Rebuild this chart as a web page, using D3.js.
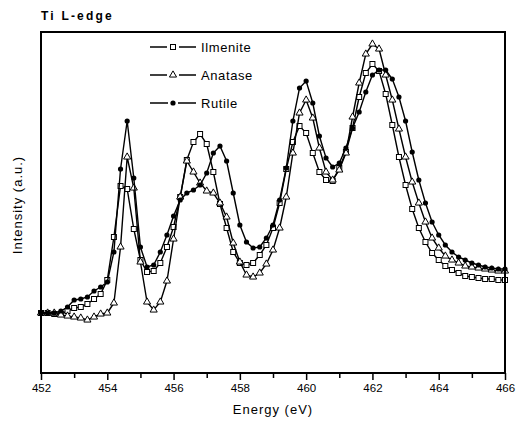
<!DOCTYPE html>
<html><head><meta charset="utf-8">
<script src="https://cdn.jsdelivr.net/npm/d3@7"></script>
<style>
body{margin:0;background:#fff;}
svg{display:block;font-family:"Liberation Sans",Arial,sans-serif;}
</style></head>
<body><svg id="c" width="521" height="432"></svg>
<script>
// Energy grid 452.0 .. 466.0 eV, step 0.2
const energy = d3.range(0, 71).map(i => +(452 + i * 0.2).toFixed(1));
const ilmenite = [60,60,59,59,62,65,66,69,74,79, 93,136,187,184,144,113,101,102,110,126, 146,176,213,231,239,229,201,169,145,121, 110,108,110,118,128,145,170,204,231,247, 240,220,201,193,192,205,221,245,276,300, 309,302,279,248,216,188,164,145,131,120, 113,107,103,100,97,96,95,94,94,93, 93];
const anatase = [60,60,60,58,57,56,55,53,56,59, 60,70,126,216,185,111,71,63,71,92, 134,176,212,201,190,182,180,170,156,130, 111,98,96,100,109,123,145,176,220,260, 273,255,225,201,193,203,220,256,290,319, 329,324,298,273,244,216,191,170,151,135, 125,117,113,110,107,106,105,104,103,102, 102];
const rutile = [60,60,60,62,66,73,74,76,82,86, 91,121,204,252,195,126,106,108,121,138, 157,173,180,183,188,200,220,227,212,180, 148,131,125,126,135,148,173,205,252,285, 292,270,237,215,206,210,225,245,261,281, 298,303,303,294,276,252,221,193,170,151, 138,128,121,116,113,110,108,106,105,104, 104];
const seriesNames = ["Ilmenite", "Anatase", "Rutile"];
const seriesMarkers = ["square", "triangle", "circle"];
const xTicks = [452,453,454,455,456,457,458,459,460,461,462,463,464,465,466];
const xLabels = [452,454,456,458,460,462,464,466];

const svg = d3.select("#c");
const L = 41, R = 505, T = 32, B = 373;
const x = d3.scaleLinear().domain([452, 466]).range([L, R]);
const y = d3.scaleLinear().domain([0, 341]).range([B, T]);

const series = [ilmenite, anatase, rutile];

function drawMarker(g, type, cx, cy) {
  if (type === "square") {
    g.append("rect").attr("x", cx - 2.5).attr("y", cy - 2.5).attr("width", 5).attr("height", 5)
      .attr("fill", "#fff").attr("stroke", "#000").attr("stroke-width", 1);
  } else if (type === "triangle") {
    g.append("path").attr("d", d3.symbol().type(d3.symbolTriangle).size(22)())
      .attr("transform", `translate(${cx},${cy})`)
      .attr("fill", "#fff").attr("stroke", "#000").attr("stroke-width", 1);
  } else {
    g.append("circle").attr("cx", cx).attr("cy", cy).attr("r", 2.6).attr("fill", "#000");
  }
}

const line = d3.line().x((d, i) => x(energy[i])).y(d => y(d));
series.forEach((s, k) => {
  const g = svg.append("g");
  g.append("path").datum(s).attr("d", line).attr("fill", "none")
    .attr("stroke", "#000").attr("stroke-width", 1.4);
  s.forEach((v, i) => drawMarker(g, seriesMarkers[k], x(energy[i]), y(v)));
});

// frame
svg.append("rect").attr("x", L).attr("y", T).attr("width", R - L).attr("height", B - T)
  .attr("fill", "none").attr("stroke", "#000").attr("stroke-width", 2);

// x axis ticks
const ax = svg.append("g").attr("transform", `translate(0,${B})`);
ax.call(d3.axisBottom(x).tickValues(xTicks).tickSize(6)
  .tickFormat(d => xLabels.includes(d) ? d : ""));
ax.select(".domain").remove();
ax.selectAll(".tick line").attr("stroke", "#000").attr("stroke-width", 1.5)
  .attr("y2", d => xLabels.includes(d) ? 7 : 5);
ax.selectAll(".tick text").attr("font-size", 11.5).attr("font-family", "Liberation Sans, Arial, sans-serif")
  .attr("fill", "#000").attr("y", 11);

// labels
svg.append("text").attr("x", 273).attr("y", 414).attr("text-anchor", "middle")
  .attr("font-size", 13).attr("letter-spacing", 1).text("Energy (eV)");
svg.append("text").attr("transform", "translate(22,205) rotate(-90)").attr("text-anchor", "middle")
  .attr("font-size", 13).attr("letter-spacing", 1).text("Intensity (a.u.)");
svg.append("text").attr("x", 41).attr("y", 20).attr("font-size", 12).attr("font-weight", "bold")
  .attr("letter-spacing", 2.2).text("Ti L-edge");

// legend
const legY = [47, 75, 103];
seriesNames.forEach((n, k) => {
  const g = svg.append("g");
  g.append("line").attr("x1", 150).attr("x2", 196).attr("y1", legY[k]).attr("y2", legY[k])
    .attr("stroke", "#000").attr("stroke-width", 1.5);
  if (seriesMarkers[k] === "circle") {
    g.append("rect").attr("x", 168).attr("y", legY[k] - 4).attr("width", 10).attr("height", 8).attr("fill", "#fff");
  } else {
    g.append("rect").attr("x", 167).attr("y", legY[k] - 4).attr("width", 12).attr("height", 8).attr("fill", "#fff");
  }
  drawMarker(g, seriesMarkers[k], 173, legY[k]);
  g.append("text").attr("x", 201).attr("y", legY[k] + 5).attr("font-size", 13)
    .attr("letter-spacing", 0.6).text(n);
});
</script></body></html>
